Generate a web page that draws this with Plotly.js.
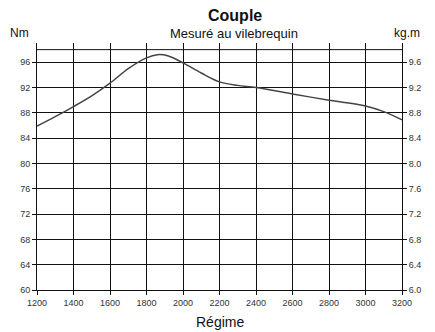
<!DOCTYPE html>
<html>
<head>
<meta charset="utf-8">
<script src="https://cdn.plot.ly/plotly-3.0.1.min.js"></script>
<style>html,body{margin:0;padding:0;background:#fff;}#chart{width:435px;height:332px;}</style>
</head>
<body>
<div id="chart"></div>
<script>
const regime = [1200, 1300, 1400, 1500, 1600, 1700, 1800, 1860, 1920, 2000, 2100, 2200, 2300, 2400, 2600, 2800, 3000, 3100, 3200];
const coupleNm = [85.9, 87.4, 89.0, 90.7, 92.7, 95.0, 96.7, 97.2, 97.0, 95.9, 94.3, 92.9, 92.35, 92.0, 91.0, 90.0, 89.1, 88.2, 86.9];
const xTicks = [1200, 1400, 1600, 1800, 2000, 2200, 2400, 2600, 2800, 3000, 3200];
const nmTicks = [60, 64, 68, 72, 76, 80, 84, 88, 92, 96];
const kgmTicks = [6.0, 6.4, 6.8, 7.2, 7.6, 8.0, 8.4, 8.8, 9.2, 9.6];
const kgmLabels = kgmTicks.map(v => v.toFixed(1));

const tickFont = {family: 'Liberation Sans, Arial, sans-serif', size: 9, color: '#333'};

const data = [
  {x: regime, y: coupleNm, type: 'scatter', mode: 'lines', line: {color: '#444', width: 1.5, shape: 'spline', smoothing: 0.9}, hoverinfo: 'none'},
  {x: [1200, 3200], y: [6, 6], yaxis: 'y2', type: 'scatter', mode: 'lines', line: {color: 'rgba(0,0,0,0)'}, hoverinfo: 'none'}
];

const layout = {
  width: 435, height: 332,
  margin: {l: 37, r: 33, t: 43, b: 42},
  paper_bgcolor: '#fff', plot_bgcolor: '#fff',
  showlegend: false,
  font: {family: 'Liberation Sans, Arial, sans-serif', color: '#111'},
  xaxis: {
    range: [1200, 3200], tickvals: xTicks, showgrid: true, gridcolor: '#111', gridwidth: 1,
    showline: true, linecolor: '#111', linewidth: 1, ticks: 'outside', ticklen: 4, tickcolor: '#111',
    tickfont: tickFont, zeroline: false, fixedrange: true
  },
  yaxis: {
    range: [60, 99.05], tickvals: nmTicks, showgrid: true, gridcolor: '#111', gridwidth: 1,
    showline: true, linecolor: '#111', linewidth: 1, ticks: 'outside', ticklen: 4, tickcolor: '#111',
    tickfont: tickFont, zeroline: false, fixedrange: true
  },
  yaxis2: {
    overlaying: 'y', side: 'right', range: [6.0, 9.905], tickvals: kgmTicks, ticktext: kgmLabels,
    showgrid: false, showline: true, linecolor: '#111', linewidth: 1, ticks: 'outside', ticklen: 4, tickcolor: '#111',
    tickfont: tickFont, zeroline: false, fixedrange: true
  },
  shapes: [
    {type: 'line', xref: 'paper', yref: 'y', x0: 0, x1: 1, y0: 98, y1: 98, line: {color: '#111', width: 1}}
  ],
  annotations: [
    {text: '<b>Couple</b>', xref: 'paper', yref: 'paper', x: 0.5, y: 0, xanchor: 'center', yanchor: 'middle', showarrow: false,
     font: {size: 16, color: '#111'}, xshift: 235 - 219.5, yshift: 275},
    {text: 'Mesuré au vilebrequin', xref: 'paper', yref: 'paper', x: 0.5, y: 0, xanchor: 'center', yanchor: 'middle', showarrow: false,
     font: {size: 13, color: '#111'}, xshift: 234 - 219.5, yshift: 257},
    {text: 'Nm', xref: 'paper', yref: 'paper', x: 0, y: 1, xanchor: 'center', yanchor: 'middle', showarrow: false,
     font: {size: 12, color: '#111'}, xshift: 19 - 37, yshift: 10},
    {text: 'kg.m', xref: 'paper', yref: 'paper', x: 1, y: 1, xanchor: 'center', yanchor: 'middle', showarrow: false,
     font: {size: 12, color: '#111'}, xshift: 407 - 402, yshift: 10},
    {text: 'Régime', xref: 'paper', yref: 'paper', x: 0.5, y: 0, xanchor: 'center', yanchor: 'middle', showarrow: false,
     font: {size: 14, color: '#111'}, xshift: 0.5, yshift: -32}
  ]
};

Plotly.newPlot('chart', data, layout, {displayModeBar: false, staticPlot: true});
</script>
</body>
</html>
